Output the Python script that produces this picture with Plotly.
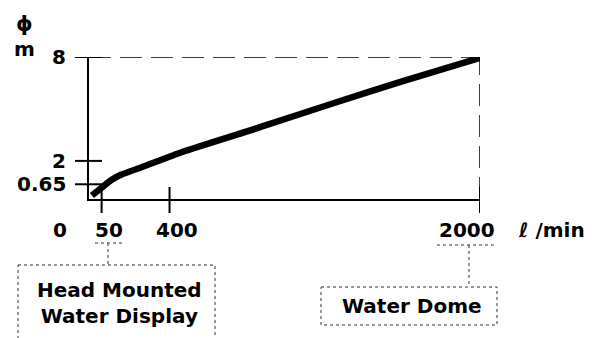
import plotly.graph_objects as go

# ---- data ----
flow = [0, 50, 100, 150, 300, 480, 870, 1280, 1590, 2000]          # l/min
diameter = [0, 0.45, 0.9, 1.2, 1.82, 2.57, 3.96, 5.46, 6.56, 7.95]  # m
x_ticks = [50, 400, 2000]
x_tick_text = ["50", "400", "2000"]
y_ticks = [0.65, 2, 8]
y_tick_text = ["0.65", "2", "8"]
origin_label = "0"
x_unit = "ℓ /min"
y_symbol = "ϕ"
y_unit = "m"
callout_text = ["Head Mounted<br>Water Display", "Water Dome"]

# ---- layout (pixels) ----
W, H = 594, 338
L, R, T, B = 89, 480, 57, 199
X_RANGE = [-15, 2000]
Y_RANGE = [-0.2, 8]
FONT = dict(family="DejaVu Sans", size=20, color="black", weight="bold")


def px(xp):
    return (xp - L) / (R - L)


def py(yp):
    return (B - yp) / (B - T)


fig = go.Figure()
fig.add_trace(go.Scatter(
    x=flow, y=diameter, mode="lines",
    line=dict(color="black", width=6.5, shape="spline", smoothing=0.5),
    hoverinfo="skip", showlegend=False))

shapes = []
# crossing tick marks (one reference in paper units so they are not clipped)
for v in x_ticks:
    shapes.append(dict(type="line", xref="x", x0=v, x1=v, yref="paper",
                       ysizemode="pixel", yanchor=0, y0=-14, y1=12,
                       line=dict(color="black", width=2)))
for v in y_ticks:
    shapes.append(dict(type="line", yref="y", y0=v, y1=v, xref="paper",
                       xsizemode="pixel", xanchor=0, x0=-14, x1=13,
                       line=dict(color="black", width=2)))
# dashed reference lines to the end point
shapes.append(dict(type="line", xref="x", yref="y", x0=X_RANGE[0], x1=x_ticks[-1],
                   y0=y_ticks[-1], y1=y_ticks[-1],
                   line=dict(color="black", width=1.5, dash="22px,9px")))
shapes.append(dict(type="line", xref="x", yref="y", x0=x_ticks[-1], x1=x_ticks[-1],
                   y0=Y_RANGE[0], y1=y_ticks[-1],
                   line=dict(color="black", width=1.5, dash="22px,9px")))

dot = dict(color="#333333", width=1, dash="dot")
# dotted underlines + connectors + boxes
shapes += [
    dict(type="line", xref="paper", yref="paper", x0=px(95), x1=px(123), y0=py(243), y1=py(243), line=dot),
    dict(type="line", xref="paper", yref="paper", x0=px(108), x1=px(108), y0=py(243), y1=py(265), line=dot),
    dict(type="rect", xref="paper", yref="paper", x0=px(18), x1=px(215), y0=py(265), y1=py(345), line=dot),
    dict(type="line", xref="paper", yref="paper", x0=px(437), x1=px(497), y0=py(245), y1=py(245), line=dot),
    dict(type="line", xref="paper", yref="paper", x0=px(469), x1=px(469), y0=py(245), y1=py(287), line=dot),
    dict(type="rect", xref="paper", yref="paper", x0=px(321), x1=px(497), y0=py(287), y1=py(325), line=dot),
]

ann = []
x_label_shift = [7, 7, -13]
for v, t, s in zip(x_ticks, x_tick_text, x_label_shift):
    ann.append(dict(x=v, xref="x", y=py(230), yref="paper", text=t, showarrow=False,
                    xanchor="center", yanchor="middle", xshift=s, font=FONT))
for v, t in zip(y_ticks, y_tick_text):
    ann.append(dict(x=0, xref="paper", y=v, yref="y", text=t, showarrow=False,
                    xanchor="right", yanchor="middle", xshift=-21, font=FONT))
ann += [
    dict(x=px(60), xref="paper", y=py(230), yref="paper", text=origin_label, showarrow=False,
         xanchor="center", yanchor="middle", font=FONT),
    dict(x=px(516), xref="paper", y=py(230), yref="paper", text=x_unit, showarrow=False,
         xanchor="left", yanchor="middle", font=FONT),
    dict(x=px(24), xref="paper", y=py(24), yref="paper", text=y_symbol, showarrow=False,
         xanchor="center", yanchor="middle", font=dict(family="DejaVu Sans", size=21, color="black", weight="bold")),
    dict(x=px(24), xref="paper", y=py(49), yref="paper", text=y_unit, showarrow=False,
         xanchor="center", yanchor="middle", font=FONT),
    dict(x=px(119), xref="paper", y=py(303), yref="paper", text=callout_text[0], showarrow=False,
         xanchor="center", yanchor="middle", font=FONT),
    dict(x=px(412), xref="paper", y=py(306), yref="paper", text=callout_text[1], showarrow=False,
         xanchor="center", yanchor="middle", font=FONT),
]

axis_common = dict(showline=True, linecolor="black", linewidth=2, ticks="",
                   showticklabels=False, showgrid=False, zeroline=False, fixedrange=True)
fig.update_layout(
    width=W, height=H,
    margin=dict(l=L, r=W - R, t=T, b=H - B),
    paper_bgcolor="white", plot_bgcolor="white",
    xaxis=dict(range=X_RANGE, **axis_common),
    yaxis=dict(range=Y_RANGE, **axis_common),
    shapes=shapes, annotations=ann, showlegend=False,
)
fig.write_html("out.html", config={"displayModeBar": False},
               post_script="document.body.style.margin='0';document.body.style.overflow='hidden';")
